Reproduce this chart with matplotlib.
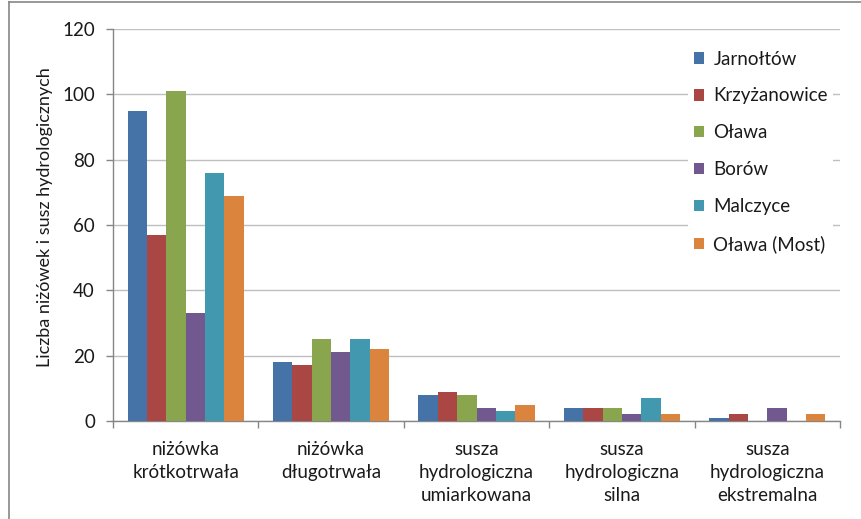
import matplotlib
matplotlib.use("Agg")
import matplotlib.pyplot as plt
from matplotlib.lines import Line2D
import numpy as np

plt.rcParams['font.family'] = ['Lato', 'DejaVu Sans']

categories = [
    "niżówka\nkrótkotrwała",
    "niżówka\ndługotrwała",
    "susza\nhydrologiczna\numiarkowana",
    "susza\nhydrologiczna\nsilna",
    "susza\nhydrologiczna\nekstremalna",
]
stations = ["Jarnołtów", "Krzyżanowice", "Oława", "Borów", "Malczyce", "Oława (Most)"]
jarnoltow = [95, 18, 8, 4, 1]
krzyzanowice = [57, 17, 9, 4, 2]
olawa = [101, 25, 8, 4, 0]
borow = [33, 21, 4, 2, 4]
malczyce = [76, 25, 3, 7, 0]
olawa_most = [69, 22, 5, 2, 2]
series = [jarnoltow, krzyzanowice, olawa, borow, malczyce, olawa_most]
colors = ["#4572A7", "#AA4643", "#89A54E", "#71588F", "#4198AF", "#DB843D"]
y_ticks = [0, 20, 40, 60, 80, 100, 120]
y_label = "Liczba niżówek i susz hydrologicznych"

FS = 13.5
W, H = 861, 519
fig = plt.figure(figsize=(W / 100, H / 100), dpi=100)
left, right, top, bottom = 113, 840, 29, 421
ax = fig.add_axes([left / W, 1 - bottom / H, (right - left) / W, (bottom - top) / H])

x = np.arange(len(categories))
n = len(series)
group = 0.8
bw = group / n
for i, (vals, col, name) in enumerate(zip(series, colors, stations)):
    ax.bar(x - group / 2 + bw * (i + 0.5), vals, width=bw, color=col,
           label=name, zorder=3, linewidth=0)

ax.set_xlim(-0.5, len(categories) - 0.5)
ax.set_ylim(0, 120)
ax.set_yticks(y_ticks)
ax.set_yticklabels([str(t) for t in y_ticks])
ax.yaxis.grid(True, color="#BFBFBF", linewidth=1.0, zorder=0)
ax.set_axisbelow(True)

ax.set_xticks(np.arange(len(categories) + 1) - 0.5)
ax.set_xticklabels([])
ax.set_xticks(x, minor=True)
ax.set_xticklabels(categories, minor=True, fontsize=FS, color="#1a1a1a",
                   linespacing=1.42, va="top")
ax.tick_params(axis="x", which="minor", length=0, pad=14.5)
ax.tick_params(axis="x", which="major", length=5, color="#868686", width=1)
ax.tick_params(axis="y", length=5, color="#868686", width=1, labelsize=FS,
               labelcolor="#1a1a1a", pad=8)

for s in ["top", "right"]:
    ax.spines[s].set_visible(False)
for s in ["left", "bottom"]:
    ax.spines[s].set_color("#868686")
    ax.spines[s].set_linewidth(1.0)

fig.text(45 / W, 1 - 217 / H, y_label, rotation=90, ha="center", va="center",
         fontsize=13, color="#1a1a1a")

leg = ax.legend(loc="upper left", bbox_to_anchor=(688 / W, 1 - 45 / H),
                bbox_transform=fig.transFigure, frameon=True, fontsize=FS,
                handlelength=0.55, handleheight=0.55, handletextpad=0.5,
                labelspacing=1.06, borderpad=0.3, borderaxespad=0)
leg.get_frame().set_facecolor("white")
leg.get_frame().set_edgecolor("none")
leg.get_frame().set_alpha(1)
for t in leg.get_texts():
    t.set_color("#1a1a1a")

# outer chart frame
fig.add_artist(Line2D([8.5 / W, 1], [1 - 1.5 / H, 1 - 1.5 / H], color="#868686",
                      linewidth=1.2, transform=fig.transFigure))
fig.add_artist(Line2D([8.5 / W, 8.5 / W], [0, 1 - 1.5 / H], color="#868686",
                      linewidth=1.2, transform=fig.transFigure))

fig.savefig("out.png", dpi=100)
